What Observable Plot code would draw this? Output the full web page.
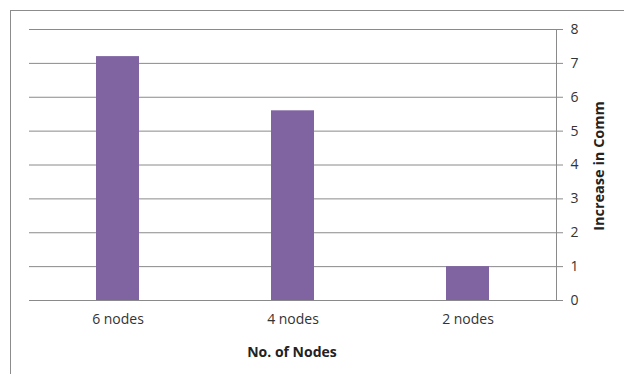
<!DOCTYPE html>
<html>
<head>
<meta charset="utf-8">
<script src="https://cdn.jsdelivr.net/npm/d3@7"></script>
<script src="https://cdn.jsdelivr.net/npm/@observablehq/plot@0.6"></script>
<style>
  html, body { margin: 0; padding: 0; background: #fff; overflow: hidden; }
  #wrap { position: relative; width: 624px; height: 374px; overflow: hidden; }
  #border { position: absolute; left: 10px; top: 10px; width: 700px; height: 500px; border: 1px solid #8c8c8c; box-sizing: border-box; }
  #chart { position: absolute; left: 0; top: 0; }
</style>
</head>
<body>
<div id="wrap"><div id="border"></div><div id="chart"></div></div>
<script>
const categories = ["6 nodes", "4 nodes", "2 nodes"];
const values = [7.2, 5.6, 1.0];
const yTicks = [0, 1, 2, 3, 4, 5, 6, 7, 8];
const xTitle = "No. of Nodes";
const yTitle = "Increase in Comm";

const data = categories.map((c, i) => ({ category: c, value: values[i] }));
const font = "'Open Sans', sans-serif";

const chart = Plot.plot({
  width: 624,
  height: 374,
  marginLeft: 29,
  marginRight: 68,
  marginTop: 29,
  marginBottom: 74,
  style: { fontFamily: font, fontSize: "14px", color: "#404040", background: "transparent" },
  x: { domain: categories, paddingInner: 0.755, paddingOuter: 0.379, label: null },
  y: { domain: [0, 8], label: null },
  marks: [
    Plot.ruleY(yTicks, { stroke: "#8a8a8a", strokeOpacity: 1 }),
    Plot.barY(data, { x: "category", y: "value", fill: "#8064A2" }),
    Plot.frame({ anchor: "right", stroke: "#8a8a8a" }),
    Plot.axisY(yTicks, { anchor: "right", tickSize: 6, tickPadding: 8, stroke: "#8a8a8a", label: null, fill: "#333", fontSize: 14 }),
    Plot.axisX({ tickSize: 0, tickPadding: 14, label: null, fill: "#333", fontSize: 14 })
  ]
});
document.getElementById("chart").appendChild(chart);

const svg = d3.select(chart);
svg.append("text")
  .attr("x", 292).attr("y", 357)
  .attr("text-anchor", "middle")
  .attr("font-family", font).attr("font-size", 14).attr("font-weight", "bold")
  .attr("fill", "#222")
  .text(xTitle);
svg.append("text")
  .attr("transform", "translate(604,166) rotate(-90)")
  .attr("text-anchor", "middle")
  .attr("font-family", font).attr("font-size", 14.5).attr("font-weight", "bold")
  .attr("fill", "#222")
  .text(yTitle);
</script>
</body>
</html>
